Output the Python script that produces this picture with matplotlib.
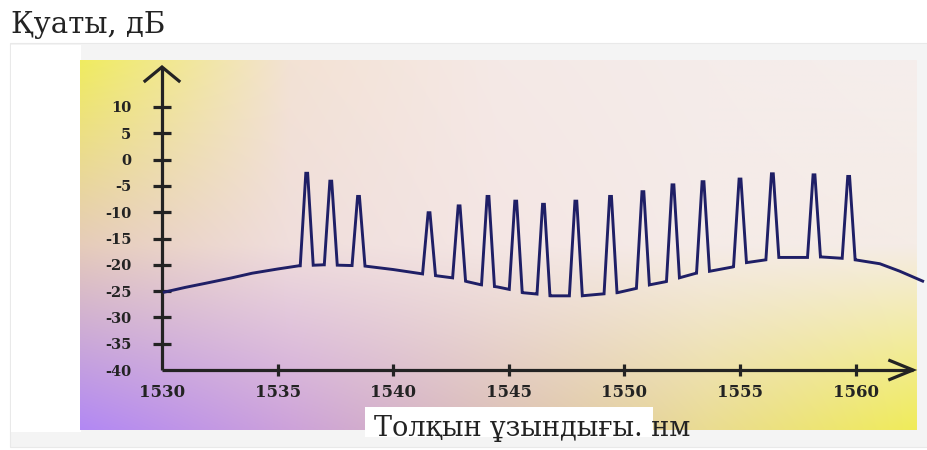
import numpy as np
import matplotlib
matplotlib.use("Agg")
import matplotlib.pyplot as plt
from matplotlib.patches import Rectangle

# Amplified spontaneous emission floor (wavelength, nm / power, dB)
floor_wl = [1530.1, 1531.0, 1531.9, 1533.0, 1533.9, 1535.0, 1535.9, 1537.0,
            1538.7, 1540.0, 1541.3, 1541.9,
            1542.6, 1543.2, 1543.8, 1544.5, 1545.05, 1545.6, 1546.2, 1546.8,
            1547.6, 1548.15, 1548.9, 1549.7, 1550.5, 1551.1, 1551.8, 1552.4,
            1553.1, 1553.6, 1554.7, 1555.1, 1556.2, 1556.6, 1558.0, 1558.5,
            1559.55, 1560.05, 1561.05, 1561.9, 1562.9]
floor_db = [-25.2, -24.3, -23.5, -22.5, -21.6, -20.8, -20.2, -20.0,
            -20.2, -20.9, -21.75, -22.1,
            -22.5, -23.2, -23.8, -24.2, -24.7, -25.3, -25.55, -25.9,
            -25.9, -25.9, -25.6, -25.3, -24.5, -23.8, -23.2, -22.45,
            -21.6, -21.3, -20.4, -19.7, -19.0, -18.6, -18.6, -18.5,
            -18.8, -19.1, -19.8, -21.2, -23.1]

# WDM channel peaks
channel_wl = [1536.26, 1537.3, 1538.5, 1541.55, 1542.85, 1544.1, 1545.3,
              1546.5, 1547.9, 1549.4, 1550.8, 1552.1, 1553.4, 1555.0,
              1556.4, 1558.2, 1559.7]
channel_db = [-2.6, -4.1, -7.0, -10.1, -8.8, -7.0, -7.9, -8.5, -7.9, -7.0,
              -6.1, -4.8, -4.2, -3.7, -2.7, -2.9, -3.2]

x_ticks = [1530, 1535, 1540, 1545, 1550, 1555, 1560]
y_ticks = [-40, -35, -30, -25, -20, -15, -10, -5, 0, 5, 10]

title_text = "Қуаты, дБ"
xlabel_text = "Толқын ұзындығы. нм"

SERIF = ["DejaVu Serif"]
INK = "#232323"
TRACE = "#1f1f66"

HALF_BASE = 0.28   # half width of a channel peak at its foot, nm
HALF_TOP = 0.04    # half width of the peak tip, nm

# ---- build the spectrum trace -------------------------------------------
pts = [(w, d) for w, d in zip(floor_wl, floor_db)
       if not any(abs(w - c) < HALF_BASE for c in channel_wl)]
for c, p in zip(channel_wl, channel_db):
    lo, hi = c - HALF_BASE, c + HALF_BASE
    flo, fhi = np.interp([lo, hi], floor_wl, floor_db)
    pts += [(lo, flo), (c - HALF_TOP, p), (c + HALF_TOP, p), (hi, fhi)]
pts.sort()
trace_wl = [p[0] for p in pts]
trace_db = [p[1] for p in pts]

# ---- figure & background ---------------------------------------------------
W, H = 928, 450
fig = plt.figure(figsize=(W / 100, H / 100), dpi=100)
fig.patch.set_facecolor("white")

bg = fig.add_axes([0, 0, 1, 1])
bg.set_xlim(0, W)
bg.set_ylim(H, 0)
bg.axis("off")

# light outer frame
bg.add_patch(Rectangle((10, 43), 918, 404, facecolor="#f4f4f4",
                       edgecolor="#e9e9e9", lw=0.8))
bg.add_patch(Rectangle((11, 45), 70, 387, facecolor="white", edgecolor="none"))

# colour wash behind the plot
wash = np.array([
    [[240, 236, 96], [243, 226, 212], [245, 233, 230], [245, 236, 234], [245, 238, 236]],
    [[230, 204, 186], [240, 222, 220], [244, 230, 228], [245, 235, 232], [245, 236, 230]],
    [[178, 136, 244], [205, 162, 218], [220, 192, 182], [234, 220, 146], [240, 236, 90]],
], dtype=float) / 255.0
nx, ny = 400, 200
gx = np.linspace(0, wash.shape[1] - 1, nx)
gy = np.linspace(0, wash.shape[0] - 1, ny)
rows = np.stack([np.stack([np.interp(gx, np.arange(wash.shape[1]), wash[r, :, ch])
                           for ch in range(3)], axis=-1)
                 for r in range(wash.shape[0])])          # (3, nx, 3)
r0 = np.clip(np.floor(gy).astype(int), 0, wash.shape[0] - 2)
t = (gy - r0)[:, None, None]
img = rows[r0] * (1 - t) + rows[r0 + 1] * t
bg.imshow(img, extent=(80, 917, 430, 60), aspect="auto", interpolation="bilinear",
          zorder=1)

# white panel under the axis title
bg.add_patch(Rectangle((365, 407), 288, 30, facecolor="white", edgecolor="none",
                       zorder=2))

bg.text(11, 33, title_text, family=SERIF, fontsize=21, color=INK,
        ha="left", va="baseline", zorder=3)
bg.text(532, 436, xlabel_text, family=SERIF, fontsize=19.5, color=INK,
        ha="center", va="baseline", zorder=3)

# ---- chart axes ------------------------------------------------------------
px_per_nm = 23.12
px_per_db = 5.26
x0_px, right_px = 162, 928
top_px, bottom_px = 55, 400
y_at_top = -15 + (238.5 - top_px) / px_per_db
y_at_bottom = -15 - (bottom_px - 238.5) / px_per_db

ax = fig.add_axes([x0_px / W, (H - bottom_px) / H,
                   (right_px - x0_px) / W, (bottom_px - top_px) / H])
ax.patch.set_alpha(0)
ax.set_xlim(1530, 1530 + (right_px - x0_px) / px_per_nm)
ax.set_ylim(y_at_bottom, y_at_top)

x_tip, y_tip = 1562.48, 17.6
for side in ("top", "right"):
    ax.spines[side].set_visible(False)
ax.spines["left"].set_bounds(-40, y_tip)
ax.spines["bottom"].set_position(("data", -40))
ax.spines["bottom"].set_bounds(1530, x_tip)
for side in ("left", "bottom"):
    ax.spines[side].set_color(INK)
    ax.spines[side].set_linewidth(2.3)
    ax.spines[side].set_capstyle("butt")

# open arrow heads
ax.plot([1530 - 0.735, 1530, 1530 + 0.735], [y_tip - 2.66, y_tip, y_tip - 2.66],
        color=INK, lw=2.3, solid_joinstyle="miter", clip_on=False)
ax.plot([x_tip - 1.0, x_tip, x_tip - 1.0], [-40 + 1.8, -40, -40 - 1.8],
        color=INK, lw=2.3, solid_joinstyle="miter", clip_on=False)

ax.set_xticks(x_ticks)
ax.set_xticklabels([str(v) for v in x_ticks])
ax.set_yticks(y_ticks)
ax.set_yticklabels([str(v) for v in y_ticks])
ax.tick_params(axis="y", direction="inout", length=13, width=2.3, color=INK,
               pad=15.5, labelsize=10.5, labelcolor=INK)
ax.tick_params(axis="x", direction="inout", length=8.6, width=2.3, color=INK,
               pad=5.5, labelsize=12, labelcolor=INK)
for lab in ax.get_xticklabels() + ax.get_yticklabels():
    lab.set_family(SERIF)
    lab.set_fontweight("bold")
ax.xaxis.get_major_ticks()[0].tick1line.set_visible(False)
ax.yaxis.get_major_ticks()[0].tick1line.set_visible(False)

ax.plot(trace_wl, trace_db, color=TRACE, lw=2.1, solid_joinstyle="miter",
        clip_on=False, zorder=4)

fig.savefig("out.png", dpi=100)
